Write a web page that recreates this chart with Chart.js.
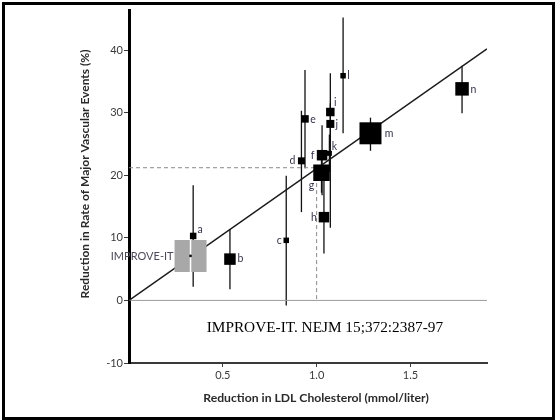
<!DOCTYPE html>
<html>
<head>
<meta charset="utf-8">
<script src="https://cdn.jsdelivr.net/npm/chart.js@4.4.1/dist/chart.umd.min.js"></script>
<style>
  html, body { margin: 0; padding: 0; background: #fff; }
  #wrap { position: relative; width: 557px; height: 420px; }
  #frame { position: absolute; left: 2px; top: 2px; width: 553px; height: 418px; border: 3px solid #000; box-sizing: border-box; pointer-events: none; }
  canvas { position: absolute; left: 0; top: 0; }
</style>
</head>
<body>
<div id="wrap">
  <canvas id="chart" width="557" height="420"></canvas>
  <div id="frame"></div>
</div>
<script>
// Trials (letters as in the figure)
const trialLabels = ["a", "b", "c", "d", "e", "f", "g", "h", "i", "j", "k", "l", "m", "n"];
const ldlReduction = [0.342, 0.538, 0.838, 0.919, 0.938, 1.029, 1.026, 1.039, 1.073, 1.073, 1.068, 1.141, 1.287, 1.775];
const eventReduction = [10.3, 6.6, 9.6, 22.3, 29.0, 23.2, 20.4, 13.3, 30.1, 28.2, 23.5, 35.9, 26.7, 33.8];
const ciLow = [2.2, 1.8, -0.8, 14.1, 21.1, 16.8, 17.2, 7.5, 11.6, 24.5, 20.5, 26.7, 23.9, 29.9];
const ciHigh = [18.4, 11.4, 19.9, 30.3, 36.8, 28.0, 23.5, 19.1, 36.3, 31.5, 26.5, 45.2, 29.2, 37.5];

// IMPROVE-IT result
const improveLdl = 0.328;
const improveEvent = 7.1;

// Regression line and the dashed reference at 1.0 mmol/l
const fitLdl = [0, 1.908];
const fitEvent = [0, 40.2];
const refLdl = [0, 1.0, 1.0];
const refEvent = [21.2, 21.2, 0];

const xTicks = [0.5, 1.0, 1.5];
const yTicks = [-10, 0, 10, 20, 30, 40];

// Styling only
const boxSide = [6.5, 11.5, 5.5, 7, 7.5, 10.5, 16.5, 10.5, 8.5, 8, 5, 5.5, 22, 13.5];
const improveSide = 32;
const labelDx = [7, 10.5, -7, -9, 8, -9.5, -10, -10, 5, 6.5, 5, 5.5, 18.5, 11.5];
const labelDy = [-6, 0, 0, 0, 0.5, 0, 12.5, 0, -9, 0.5, -7, 0, 0, 0.5];

const FONT = "Lato, 'Open Sans', sans-serif";
const TEXT = "#3a3a3a";

const trialPlugin = {
  id: "trialMarks",
  beforeDatasetsDraw(chart) {
    const { ctx, scales: { x, y } } = chart;
    ctx.save();
    ctx.strokeStyle = "#111";
    ctx.lineWidth = 1.3;
    ldlReduction.forEach((v, i) => {
      const px = x.getPixelForValue(v);
      ctx.beginPath();
      ctx.moveTo(px, y.getPixelForValue(ciHigh[i]));
      ctx.lineTo(px, y.getPixelForValue(ciLow[i]));
      ctx.stroke();
    });
    ctx.restore();
  },
  afterDatasetsDraw(chart) {
    const { ctx, scales: { x, y } } = chart;
    ctx.save();
    // white centre line and dot in the IMPROVE-IT box
    const ix = x.getPixelForValue(improveLdl);
    const iy = y.getPixelForValue(improveEvent);
    ctx.strokeStyle = "#fff";
    ctx.lineWidth = 1.5;
    ctx.beginPath();
    ctx.moveTo(ix, iy - improveSide / 2);
    ctx.lineTo(ix, iy + improveSide / 2);
    ctx.stroke();
    ctx.fillStyle = "#111";
    ctx.beginPath();
    ctx.arc(ix, iy, 1.4, 0, Math.PI * 2);
    ctx.fill();

    ctx.font = "11px " + FONT;
    ctx.fillStyle = "#4a4a5a";
    ctx.textAlign = "right";
    ctx.textBaseline = "middle";
    ctx.fillText("IMPROVE-IT", ix - improveSide / 2 - 1, iy);

    // trial letters
    ctx.font = "10.5px " + FONT;
    ctx.fillStyle = "#33334a";
    ctx.textAlign = "center";
    trialLabels.forEach((t, i) => {
      const px = x.getPixelForValue(ldlReduction[i]) + labelDx[i];
      const py = y.getPixelForValue(eventReduction[i]) + labelDy[i];
      ctx.fillText(t, px, py);
    });
    ctx.restore();
  },
  afterDraw(chart) {
    const { ctx, chartArea, scales: { x, y } } = chart;
    ctx.save();
    ctx.fillStyle = "#000";
    ctx.font = "15.3px 'Liberation Serif', 'Times New Roman', serif";
    ctx.textAlign = "center";
    ctx.textBaseline = "middle";
    ctx.fillText("IMPROVE-IT. NEJM 15;372:2387-97", x.getPixelForValue(1.044), y.getPixelForValue(-4.4));

    ctx.fillStyle = "#2a2a2a";
    ctx.font = "bold 12.2px " + FONT;
    ctx.fillText("Reduction in LDL Cholesterol (mmol/liter)", chartArea.left + 187, 398);
    ctx.translate(85, chartArea.top + 164);
    ctx.rotate(-Math.PI / 2);
    ctx.font = "bold 12px " + FONT;
    ctx.fillText("Reduction in Rate of Major Vascular Events (%)", 0, 0);
    ctx.restore();
  },
};

const points = ldlReduction.map((v, i) => ({ x: v, y: eventReduction[i] }));

new Chart(document.getElementById("chart"), {
  type: "scatter",
  data: {
    datasets: [
      {
        label: "Trials",
        data: points,
        pointStyle: "rect",
        pointRadius: boxSide.map((s) => s / Math.SQRT2),
        pointHoverRadius: boxSide.map((s) => s / Math.SQRT2),
        backgroundColor: "#000",
        borderWidth: 0,
      },
      {
        label: "IMPROVE-IT",
        data: [{ x: improveLdl, y: improveEvent }],
        pointStyle: "rect",
        pointRadius: improveSide / Math.SQRT2,
        backgroundColor: "#a8a8a8",
        borderWidth: 0,
      },
      {
        label: "Fit",
        type: "line",
        data: fitLdl.map((v, i) => ({ x: v, y: fitEvent[i] })),
        borderColor: "#1a1a1a",
        borderWidth: 1.5,
        pointRadius: 0,
      },
      {
        label: "Reference",
        type: "line",
        data: refLdl.map((v, i) => ({ x: v, y: refEvent[i] })),
        borderColor: "#8a8a8a",
        borderWidth: 1,
        borderDash: [4, 3],
        pointRadius: 0,
      },
      {
        label: "Zero",
        type: "line",
        data: [{ x: 0, y: 0 }, { x: 1.908, y: 0 }],
        borderColor: "#9a9a9a",
        borderWidth: 1,
        pointRadius: 0,
      },
    ],
  },
  plugins: [trialPlugin],
  options: {
    responsive: false,
    animation: false,
    layout: { autoPadding: false, padding: { left: 0, right: 70, top: 10, bottom: 0 } },
    plugins: {
      legend: { display: false },
      tooltip: { enabled: false },
    },
    scales: {
      x: {
        type: "linear",
        min: 0,
        max: 1.908,
        afterBuildTicks: (s) => { s.ticks = xTicks.map((v) => ({ value: v })); },
        afterFit: (s) => { s.height = 57; s.paddingLeft = 0; s.paddingRight = 0; },
        border: { color: "#3a3a3a", width: 2 },
        grid: { drawOnChartArea: false, drawTicks: true, tickLength: 4, color: "#3a3a3a" },
        ticks: { color: TEXT, padding: 2, font: { family: FONT, size: 11 }, callback: (v) => Number(v).toFixed(1) },
      },
      y: {
        type: "linear",
        min: -10,
        max: 46.4,
        afterBuildTicks: (s) => { s.ticks = yTicks.map((v) => ({ value: v })); },
        afterFit: (s) => { s.width = 129; s.paddingTop = 0; s.paddingBottom = 0; },
        border: { color: "#000", width: 3 },
        grid: { drawOnChartArea: false, drawTicks: true, tickLength: 5, color: "#3a3a3a" },
        ticks: { color: TEXT, padding: 1, font: { family: FONT, size: 11 }, callback: (v) => String(v) },
      },
    },
  },
});
</script>
</body>
</html>
